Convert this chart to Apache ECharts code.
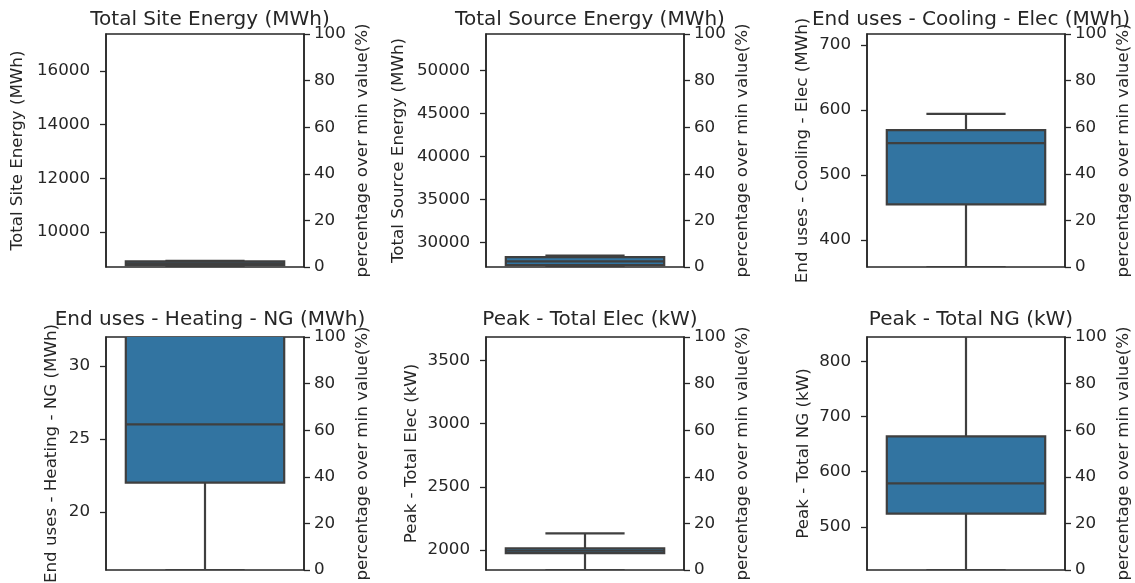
<!DOCTYPE html>
<html>
<head>
<meta charset="utf-8">
<script src="https://cdn.jsdelivr.net/npm/echarts@6/dist/echarts.min.js"></script>
<style>
html,body{margin:0;padding:0;background:#fff;}
#chart{width:1135px;height:583px;}
</style>
</head>
<body>
<div id="chart"></div>
<script>
// ---- data ----
const titles = [
  'Total Site Energy (MWh)',
  'Total Source Energy (MWh)',
  'End uses - Cooling - Elec (MWh)',
  'End uses - Heating - NG (MWh)',
  'Peak - Total Elec (kW)',
  'Peak - Total NG (kW)'
];
const yLabels = titles.slice();
const rightLabel = 'percentage over min value(%)';
// axis range: min value .. 2 x min value (0..100 % over min)
const axisMin = [8690, 27140, 358.5, 16, 1842, 422];
const axisMax = [17380, 54280, 717, 32, 3684, 844];
const tickValues = [
  [10000, 12000, 14000, 16000],
  [30000, 35000, 40000, 45000, 50000],
  [400, 500, 600, 700],
  [20, 25, 30],
  [2000, 2500, 3000, 3500],
  [500, 600, 700, 800]
];
const pctTicks = [0, 20, 40, 60, 80, 100];
const whiskerLow  = [8690, 27140, 358.5, 16, 1842, 422];
const q1          = [8760, 27350, 455, 22, 1976, 524];
const median      = [8830, 27800, 549, 26, 1995, 579];
const q3          = [8900, 28290, 569, 34, 2014, 664];
const whiskerHigh = [8920, 28460, 594, 42, 2132, 900];

// ---- layout ----
const colLeft = [106, 486, 867];
const rowTop = [34, 337];
const titleTop = [5, 305];
const plotW = 198, plotH = 233;
const leftNameGap = [80, 79, 56, 46, 66, 55];
const textColor = '#262626';
const lineColor = '#3f3f3f';
const boxFill = '#3274a1';
const FONT = 'DejaVu Sans';
const plain = function (v) { return String(v); };

const grids = [], xAxes = [], yAxes = [], series = [], titleList = [];
for (let i = 0; i < 6; i++) {
  const col = i % 3, row = Math.floor(i / 3);
  const left = colLeft[col], top = rowTop[row];
  grids.push({
    left: left, top: top, width: plotW, height: plotH,
    show: true, borderColor: textColor, borderWidth: 1.5,
    backgroundColor: 'transparent', outerBoundsMode: 'none', containLabel: false
  });
  xAxes.push({
    type: 'category', gridIndex: i, data: [''], boundaryGap: true,
    axisLine: {show: false}, axisTick: {show: false}, axisLabel: {show: false},
    splitLine: {show: false}
  });
  yAxes.push({
    type: 'value', gridIndex: i, position: 'left',
    min: axisMin[i], max: axisMax[i],
    axisLine: {show: true, lineStyle: {color: textColor, width: 1.5}},
    axisTick: {show: true, inside: false, length: 6, lineStyle: {color: textColor, width: 1.3}, customValues: tickValues[i]},
    axisLabel: {show: true, margin: 16, color: textColor, fontSize: 16.7, fontFamily: FONT, customValues: tickValues[i], formatter: plain},
    splitLine: {show: false},
    name: yLabels[i], nameLocation: 'middle', nameGap: leftNameGap[i], nameRotate: 90,
    nameTextStyle: {color: textColor, fontSize: 16.7, fontFamily: FONT}
  });
  yAxes.push({
    type: 'value', gridIndex: i, position: 'right',
    min: 0, max: 100,
    axisLine: {show: true, lineStyle: {color: textColor, width: 1.5}},
    axisTick: {show: true, inside: false, length: 6, lineStyle: {color: textColor, width: 1.3}, customValues: pctTicks},
    axisLabel: {show: true, margin: 10, color: textColor, fontSize: 16.7, fontFamily: FONT, customValues: pctTicks, formatter: plain},
    splitLine: {show: false},
    name: rightLabel, nameLocation: 'middle', nameGap: 50, nameRotate: 90,
    nameTextStyle: {color: textColor, fontSize: 16.7, fontFamily: FONT}
  });
  titleList.push({
    text: titles[i], left: left + plotW / 2, top: titleTop[row], textAlign: 'center',
    textStyle: {color: textColor, fontSize: 20, fontWeight: 'normal', fontFamily: FONT}
  });
  series.push({
    type: 'custom', xAxisIndex: i, yAxisIndex: i * 2, clip: true,
    data: [[0, whiskerLow[i], q1[i], median[i], q3[i], whiskerHigh[i]]],
    encode: {x: 0, y: [1, 2, 3, 4, 5]},
    renderItem: function (params, api) {
      const c = api.value(0);
      const pLow = api.coord([c, api.value(1)]);
      const pQ1 = api.coord([c, api.value(2)]);
      const pMed = api.coord([c, api.value(3)]);
      const pQ3 = api.coord([c, api.value(4)]);
      const pHigh = api.coord([c, api.value(5)]);
      const band = api.size([1, 0])[0];
      const bw = band * 0.8, cw = band * 0.4;
      const cx = pMed[0];
      const ls = {stroke: lineColor, lineWidth: 2.2, fill: null};
      const children = [
        {type: 'line', shape: {x1: cx, y1: pQ3[1], x2: cx, y2: pHigh[1]}, style: ls},
        {type: 'line', shape: {x1: cx, y1: pQ1[1], x2: cx, y2: pLow[1]}, style: ls},
        {type: 'line', shape: {x1: cx - cw / 2, y1: pHigh[1], x2: cx + cw / 2, y2: pHigh[1]}, style: ls},
        {type: 'line', shape: {x1: cx - cw / 2, y1: pLow[1], x2: cx + cw / 2, y2: pLow[1]}, style: ls},
        {type: 'rect', shape: {x: cx - bw / 2, y: pQ3[1], width: bw, height: pQ1[1] - pQ3[1]},
          style: {fill: boxFill, stroke: lineColor, lineWidth: 2.2}},
        {type: 'line', shape: {x1: cx - bw / 2, y1: pMed[1], x2: cx + bw / 2, y2: pMed[1]}, style: ls}
      ];
      return {type: 'group', children: children};
    }
  });
}

const chart = echarts.init(document.getElementById('chart'), null, {renderer: 'canvas'});
chart.setOption({
  animation: false,
  backgroundColor: '#fff',
  title: titleList,
  grid: grids,
  xAxis: xAxes,
  yAxis: yAxes,
  series: series
});
</script>
</body>
</html>
